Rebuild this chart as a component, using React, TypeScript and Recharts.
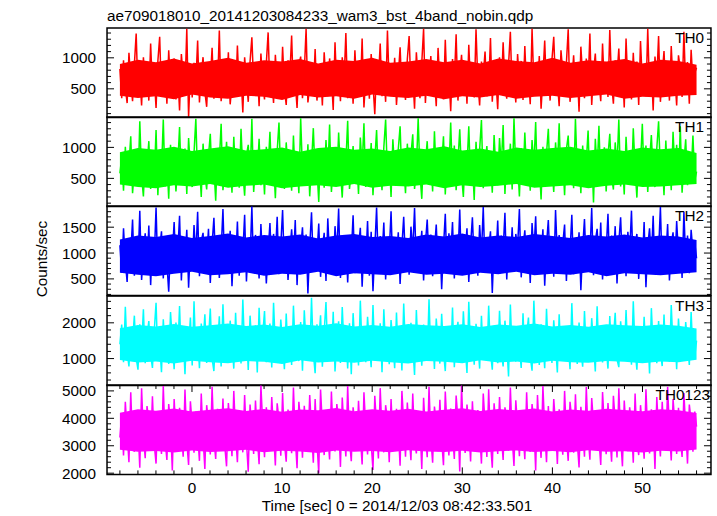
import { ComposedChart, Line, Area, XAxis, YAxis, ReferenceArea } from 'recharts';

// light curve samples, evenly spaced from tStart to tStop (sec)
const tStart = -8;
const tStop = 56;

const th0 = [
  820, 350, 960, 510, 270, 1080, 640, 300, 890, 1390, 420, 720, 230, 1010, 560, 860,
  310, 1230, 480, 700, 190, 950, 1340, 390, 610, 880, 260, 1120, 540, 420, 990, 330,
  760, 150, 1060, 680, 470, 1470, 40, 830, 360, 920, 590, 1280, 280, 740, 1010, 450,
  210, 870, 620, 1160, 340, 790, 520, 1440, 300, 680, 960, 410, 1090, 250, 590, 840,
  370, 1200, 480, 730, 120, 1010, 650, 290, 940, 1330, 560, 410, 870, 220, 1070, 600,
  330, 910, 1410, 460, 690, 270, 1050, 580, 820, 360, 1180, 510, 240, 960, 700, 1360,
  400, 620, 190, 880, 1020, 350, 770, 1470, 280, 540, 930, 430, 1140, 310, 660, 850,
  230, 1090, 590, 380, 990, 710, 160, 1250, 470, 830, 300, 1010, 620, 1400, 350, 560,
  900, 260, 1120, 520, 780, 410, 1310, 200, 690, 960, 340, 1060, 580, 90, 870, 640,
  1230, 380, 750, 290, 1440, 530, 850, 410, 1000, 240, 700, 1170, 460, 610, 320, 980,
  1350, 500, 720, 180, 1090, 640, 350, 920, 1470, 270, 810, 560, 1030, 400, 690, 220,
  1160, 590, 860, 330, 1290, 470, 750, 140, 980, 620, 1380, 310, 710, 1050, 440, 880,
  260, 1210, 540, 800, 360, 1460, 610, 230, 940, 700, 1100, 380, 520, 1320, 290, 830,
  650, 170, 1010, 460, 1250, 570, 340, 890, 1420, 410, 760, 280, 1060, 600, 950, 320,
  1190, 480, 730, 250, 1470, 560, 870, 390, 1030, 180, 690, 1280, 450, 800, 310, 970,
  1340, 530, 640, 220, 1120, 760, 380, 910, 1460, 290, 600, 1040, 470, 820, 130, 1180,
  700, 350, 990, 560, 1390, 240, 780, 1070, 430, 620, 300, 1230, 510, 890, 370, 1450,
  580, 260, 960, 710, 1150, 400, 830, 200, 1310, 540, 670, 330, 1080, 460, 940, 240,
  1270, 610, 790, 380, 1470, 500, 860, 150, 1020, 640, 1350, 290, 730, 1110, 420, 880,
  310, 1190, 560, 690, 230, 1040, 820, 370, 1420, 480, 930, 260, 1130, 590, 760, 840,
];

const th1 = [
  580, 840, 300, 1010, 460, 720, 1180, 260, 650, 930, 380, 1420, 540, 210, 870, 690,
  1100, 330, 760, 490, 1280, 230, 950, 610, 1450, 370, 800, 170, 1040, 520, 880, 290,
  710, 1330, 420, 590, 980, 250, 1150, 640, 360, 910, 1460, 480, 740, 200, 1060, 560,
  320, 860, 1220, 450, 680, 140, 990, 780, 1380, 310, 620, 1090, 400, 830, 270, 1170,
  530, 950, 350, 1300, 600, 220, 870, 1040, 470, 1460, 280, 720, 560, 1140, 390, 810,
  240, 1010, 660, 1250, 430, 760, 180, 940, 1400, 510, 690, 330, 1080, 590, 850, 300,
  1190, 460, 790, 260, 1470, 620, 900, 380, 1050, 210, 740, 1310, 540, 670, 120, 980,
  820, 350, 1120, 570, 1370, 280, 700, 960, 440, 1240, 610, 190, 890, 750, 1430, 330,
  600, 1020, 410, 820, 250, 1160, 680, 1390, 360, 930, 520, 1070, 230, 790, 1280, 470,
  700, 310, 1000, 1450, 550, 860, 200, 1130, 640, 380, 970, 1340, 490, 720, 260, 1060,
  430, 880, 1210, 330, 660, 1470, 580, 170, 940, 750, 1100, 400, 820, 290, 1260, 540,
  990, 360, 710, 1180, 240, 870, 620, 1400, 450, 1030, 310, 770, 1290, 560, 200, 910,
  680, 1340, 420, 800, 150, 1090, 590, 960, 1440, 340, 730, 1020, 480, 860, 270, 1200,
  610, 390, 1150, 700, 1360, 250, 920, 530, 1060, 320, 1470, 640, 780, 210, 990, 440,
  1240, 570, 850, 300, 1120, 680, 1410, 380, 740, 160, 1010, 590, 900, 1300, 460, 720,
  280, 1080, 650, 1390, 420, 830, 230, 970, 1190, 510, 770, 340, 1460, 600, 880, 260,
  1030, 480, 760, 1270, 350, 940, 110, 1140, 620, 1350, 410, 710, 1000, 290, 860, 1220,
  540, 320, 1080, 690, 1450, 370, 820, 240, 1170, 580, 950, 430, 1310, 660, 190, 900,
  740, 1380, 470, 1030, 280, 790, 1200, 550, 360, 980, 1420, 620, 840, 230, 1110, 500,
  870, 310, 1250, 640, 1040, 420, 1340, 270, 760, 1130, 390, 920, 560, 1190, 470, 610,
];

const th2 = [
  1150, 620, 1480, 830, 440, 1290, 970, 1650, 560, 1120, 760, 1820, 480, 1040, 1380, 690,
  1530, 380, 1210, 900, 1880, 590, 1070, 1420, 510, 1300, 810, 250, 1180, 960, 1600, 640,
  1010, 1720, 470, 1260, 860, 1450, 330, 1130, 700, 1540, 930, 1800, 550, 1230, 1390, 600,
  880, 1470, 420, 1170, 1680, 740, 1340, 520, 1050, 1850, 650, 1210, 960, 1430, 360, 1120,
  790, 1610, 560, 1280, 1000, 1740, 450, 1190, 870, 1900, 620, 1350, 1090, 510, 1560, 780,
  1250, 410, 1030, 1580, 720, 1370, 940, 1700, 590, 1150, 1830, 680, 1310, 480, 1020, 1460,
  840, 1640, 380, 1240, 1090, 1500, 630, 1360, 220, 1130, 1790, 730, 1280, 950, 1570, 540,
  1070, 1390, 460, 1670, 890, 1220, 600, 1520, 1000, 1860, 520, 1180, 760, 1330, 430, 1260,
  980, 1730, 610, 1300, 1120, 1490, 350, 1160, 820, 1620, 560, 1410, 260, 1080, 1880, 700,
  1330, 930, 1590, 490, 1200, 1010, 1810, 640, 1280, 850, 1400, 400, 1140, 1700, 770, 1230,
  580, 1510, 1040, 1870, 690, 1250, 930, 1430, 470, 1180, 1650, 820, 1360, 550, 1060, 1550,
  720, 1290, 300, 1110, 1760, 640, 1380, 980, 1600, 510, 1200, 890, 1840, 620, 1320, 1020,
  1480, 440, 1160, 1690, 790, 1270, 560, 1540, 970, 1890, 680, 1230, 1080, 1420, 230, 1190,
  870, 1630, 600, 1340, 1050, 1780, 490, 1210, 810, 1500, 650, 1370, 1120, 1850, 530, 1090,
  1440, 760, 1260, 420, 1580, 990, 1710, 620, 1300, 870, 1460, 370, 1170, 1640, 740, 1240,
  540, 1830, 930, 1350, 690, 1190, 1550, 460, 1280, 1020, 1740, 590, 1140, 840, 1400, 280,
  1100, 1660, 710, 1310, 960, 1870, 570, 1230, 1470, 800, 1590, 490, 1180, 1050, 1760, 640,
  1340, 880, 1520, 410, 1210, 1690, 740, 1290, 550, 1410, 990, 1820, 620, 1150, 1370, 500,
  1260, 780, 1600, 340, 1130, 1480, 860, 1720, 590, 1250, 1030, 1890, 680, 1320, 910, 1560,
  470, 1180, 1400, 730, 1620, 960, 1270, 520, 1800, 850, 1340, 610, 1450, 1020, 1200, 900,
];

const th3 = [
  1400, 1950, 900, 2450, 1200, 780, 1830, 1500, 2200, 1020, 690, 1960, 1330, 2380, 870, 1640,
  2050, 1100, 740, 1780, 2560, 960, 1420, 620, 2100, 1250, 1890, 850, 2300, 1480, 700, 2010,
  1170, 2470, 920, 1600, 560, 1850, 1320, 2150, 810, 2600, 1040, 1720, 730, 1980, 1390, 2240,
  880, 1530, 2400, 1000, 650, 1810, 1270, 2180, 780, 2520, 1150, 1690, 940, 2060, 1450, 720,
  2280, 1080, 1750, 860, 2650, 1220, 1870, 680, 2200, 1360, 990, 1930, 610, 2420, 1190, 1660,
  2330, 900, 1570, 1980, 750, 2560, 1300, 1800, 970, 2090, 1420, 700, 2260, 1130, 1840, 820,
  2480, 1250, 1620, 930, 2020, 660, 2350, 1380, 1910, 1000, 2700, 1160, 590, 1960, 1480, 2210,
  770, 1740, 2580, 1090, 1880, 940, 2310, 640, 1550, 2040, 880, 2440, 1270, 1830, 720, 1990,
  560, 2270, 1340, 1700, 810, 2620, 1200, 1850, 900, 2170, 1410, 760, 2500, 1060, 1760, 960,
  1990, 620, 2380, 1290, 1580, 840, 2080, 1460, 730, 2290, 1010, 1900, 670, 2540, 1230, 1790,
  890, 2000, 1370, 540, 2360, 1140, 1680, 800, 1950, 1300, 940, 2660, 1070, 1720, 710, 2120,
  1440, 860, 2250, 1190, 650, 1870, 1560, 980, 2430, 760, 1640, 2030, 1100, 880, 2320, 1350,
  600, 2590, 1260, 1820, 830, 1970, 1470, 720, 2200, 1040, 1730, 950, 2480, 1180, 690, 1920,
  1580, 870, 2340, 1210, 780, 2060, 1390, 500, 2510, 1120, 1760, 910, 1890, 1330, 740, 2270,
  990, 1650, 2150, 1060, 660, 2620, 1280, 1840, 820, 1960, 1430, 730, 2390, 1170, 1700, 880,
  2070, 1360, 610, 2240, 1020, 1810, 960, 1910, 1490, 700, 2550, 1130, 1630, 850, 2010, 1270,
  770, 2330, 1200, 1740, 930, 2130, 1410, 640, 2460, 1090, 1860, 890, 1940, 1320, 720, 2190,
  1060, 1580, 2280, 980, 760, 2040, 1450, 1000, 2360, 1150, 1670, 830, 2600, 1240, 690, 1880,
  1380, 940, 2170, 1110, 1790, 580, 2410, 1300, 1620, 870, 2050, 1190, 790, 2230, 1040, 1720,
  910, 2500, 1340, 1800, 700, 2120, 1250, 1590, 960, 2020, 1470, 820, 2300, 1120, 1060, 1500,
];

const th0123 = [
  3300, 4150, 2650, 4600, 3500, 2400, 4950, 3100, 2780, 4300, 3700, 2200, 5100, 3350, 2550, 4450,
  3900, 2900, 4800, 3050, 2350, 4200, 3600, 2700, 5180, 3200, 2480, 4520, 3800, 2100, 4700, 3400,
  2820, 4380, 3650, 2600, 5050, 3150, 2300, 4620, 3750, 2750, 4250, 3450, 2450, 4900, 3300, 2150,
  4480, 3850, 2680, 5150, 3250, 2520, 4350, 3550, 2880, 4720, 3000, 2250, 4560, 3700, 2620, 5000,
  3400, 2400, 4280, 3900, 2760, 4850, 3150, 2050, 4500, 3600, 2700, 4650, 3350, 2330, 5200, 3800,
  2580, 4400, 3250, 2850, 4780, 3500, 2280, 4550, 3950, 2640, 4920, 3100, 2420, 4320, 3700, 2730,
  5120, 3300, 2180, 4600, 3850, 2560, 4460, 3400, 2900, 4850, 3600, 2380, 4700, 3150, 2000, 5050,
  3750, 2660, 4300, 3450, 2500, 4980, 3300, 2790, 4520, 3900, 2230, 4760, 3550, 2610, 5180, 3200,
  2440, 4400, 3800, 2870, 4640, 3350, 2320, 4950, 3650, 2680, 4270, 3100, 2120, 4820, 3700, 2540,
  5100, 3450, 2760, 4480, 3950, 2400, 4700, 3250, 2830, 4350, 3600, 2270, 5000, 3800, 2600, 4580,
  3400, 2470, 4900, 3150, 2720, 4250, 3750, 2150, 4750, 3500, 2580, 5150, 3300, 2380, 4430, 3850,
  2800, 4680, 3200, 2290, 4980, 3600, 2650, 4360, 3450, 2520, 4830, 3950, 2060, 5200, 3350, 2740,
  4500, 3700, 2430, 4620, 3250, 2860, 4300, 3550, 2350, 4900, 3800, 2590, 5060, 3150, 2200, 4550,
  3650, 2700, 4780, 3400, 2480, 4400, 3900, 2820, 5120, 3300, 2260, 4660, 3700, 2620, 4280, 3500,
  2510, 4950, 3250, 2780, 4520, 3850, 2100, 4850, 3450, 2560, 5180, 3600, 2400, 4450, 3200, 2880,
  4700, 3750, 2340, 4330, 3500, 2670, 5000, 3350, 2450, 4600, 3950, 2750, 4880, 3150, 2210, 4420,
  3600, 2600, 5140, 3400, 2490, 4740, 3800, 2850, 4300, 3250, 2300, 4960, 3700, 2690, 4560, 3450,
  2420, 4820, 3900, 2570, 5100, 3300, 2250, 4650, 3550, 2800, 4400, 3750, 2380, 4900, 3200, 2660,
  4480, 3650, 2530, 5060, 3400, 2720, 4330, 3850, 2150, 4780, 3500, 2610, 4600, 3300, 2840, 5150,
  3550, 2460, 4700, 3800, 2700, 4380, 3250, 2590, 4920, 3600, 2350, 4500, 3900, 2780, 4250, 3700,
];

// dense core of each light curve (where the trace is solid), read every 2 s
const coreStep = 2;
const th0Lo = [390, 350, 380, 330, 410, 360, 340, 390, 370, 320, 400, 360, 380, 340, 410, 370, 350, 390, 330, 380, 360, 400, 340, 370, 390, 350, 380, 410, 340, 370, 360, 390, 400];
const th0Hi = [900, 970, 930, 990, 910, 950, 1000, 920, 960, 940, 980, 910, 970, 950, 1000, 920, 940, 980, 930, 970, 910, 990, 950, 930, 1000, 920, 960, 940, 980, 910, 970, 950, 890];
const th1Lo = [400, 360, 340, 390, 370, 410, 350, 380, 400, 340, 370, 390, 360, 410, 350, 380, 370, 400, 340, 390, 360, 380, 410, 350, 370, 390, 340, 380, 400, 360, 370, 390, 410];
const th1Hi = [920, 990, 960, 1010, 940, 980, 1020, 950, 970, 1000, 930, 990, 1010, 960, 980, 940, 1000, 970, 1020, 950, 980, 930, 1000, 960, 990, 1010, 950, 980, 940, 1000, 970, 990, 910];
const th2Lo = [620, 580, 550, 600, 640, 570, 590, 630, 560, 600, 580, 640, 550, 610, 590, 570, 630, 580, 600, 560, 620, 590, 640, 570, 600, 580, 630, 550, 610, 590, 570, 600, 630];
const th2Hi = [1260, 1340, 1310, 1370, 1290, 1330, 1380, 1300, 1350, 1320, 1360, 1280, 1340, 1370, 1310, 1330, 1290, 1360, 1320, 1380, 1300, 1340, 1310, 1370, 1330, 1290, 1350, 1320, 1360, 1300, 1340, 1320, 1250];
const th3Lo = [960, 890, 920, 860, 940, 900, 870, 930, 910, 850, 950, 890, 920, 880, 940, 900, 860, 930, 910, 870, 950, 890, 920, 860, 940, 900, 880, 930, 910, 870, 920, 900, 970];
const th3Hi = [1850, 1940, 1900, 1970, 1890, 1930, 1980, 1910, 1950, 1880, 1960, 1920, 1990, 1900, 1940, 1890, 1970, 1930, 1910, 1960, 1880, 1950, 1920, 1980, 1900, 1940, 1890, 1960, 1930, 1910, 1950, 1920, 1840];
const th0123Lo = [2850, 2780, 2810, 2750, 2830, 2770, 2800, 2850, 2760, 2820, 2790, 2740, 2830, 2780, 2810, 2760, 2840, 2790, 2770, 2820, 2750, 2800, 2830, 2770, 2810, 2760, 2840, 2780, 2800, 2750, 2820, 2790, 2860];
const th0123Hi = [4200, 4330, 4280, 4360, 4250, 4310, 4370, 4270, 4340, 4240, 4320, 4290, 4380, 4260, 4330, 4280, 4350, 4250, 4310, 4370, 4270, 4340, 4290, 4360, 4250, 4320, 4280, 4350, 4300, 4260, 4330, 4290, 4190];

const bandNames = ['TH0', 'TH1', 'TH2', 'TH3', 'TH0123'];
const bandValues = [th0, th1, th2, th3, th0123];
const bandLo = [th0Lo, th1Lo, th2Lo, th3Lo, th0123Lo];
const bandHi = [th0Hi, th1Hi, th2Hi, th3Hi, th0123Hi];
const bandColors = ['#ff0000', '#00ff00', '#0000ff', '#00ffff', '#ff00ff'];

const yDomains = [
  [39, 1481],
  [48, 1490],
  [181, 1910],
  [250, 2750],
  [1956, 5215],
];
const yTicks = [
  [100, 200, 300, 400, 500, 600, 700, 800, 900, 1000, 1100, 1200, 1300, 1400],
  [100, 200, 300, 400, 500, 600, 700, 800, 900, 1000, 1100, 1200, 1300, 1400],
  [200, 300, 400, 500, 600, 700, 800, 900, 1000, 1100, 1200, 1300, 1400, 1500, 1600, 1700, 1800, 1900],
  [400, 600, 800, 1000, 1200, 1400, 1600, 1800, 2000, 2200, 2400, 2600],
  [2000, 2200, 2400, 2600, 2800, 3000, 3200, 3400, 3600, 3800, 4000, 4200, 4400, 4600, 4800, 5000, 5200],
];
const yLabels = [
  [500, 1000],
  [500, 1000],
  [500, 1000, 1500],
  [1000, 2000],
  [2000, 3000, 4000, 5000],
];

const xDomain = [-9.43, 57.6];
const xTicks = [-8, -6, -4, -2, 0, 2, 4, 6, 8, 10, 12, 14, 16, 18, 20, 22, 24, 26, 28, 30, 32, 34, 36, 38, 40, 42, 44, 46, 48, 50, 52, 54, 56];
const xLabels = [0, 10, 20, 30, 40, 50];

const title = 'ae709018010_20141203084233_wam3_bst_4band_nobin.qdp';
const xTitle = 'Time [sec] 0 = 2014/12/03 08:42:33.501';
const yTitle = 'Counts/sec';

const W = 717;
const H = 516;
const LEFT = 107;
const RIGHT = 711;
const PLOT_W = RIGHT - LEFT;
const TOP = 27.5;
const PANEL_H = 89.4;
const PAD = 3;
const FONT = 15.3;
const FAMILY = '"Liberation Sans", Arial, Helvetica, sans-serif';

function XTick(props: any) {
  const { x, y, payload, showLabel } = props;
  const v = payload.value;
  const major = xLabels.includes(v);
  const len = major ? 7 : 4;
  return (
    <g>
      <line x1={x} x2={x} y1={y} y2={y - len} stroke="#000" strokeWidth={1} />
      <line x1={x} x2={x} y1={y - PANEL_H} y2={y - PANEL_H + len} stroke="#000" strokeWidth={1} />
      {showLabel && major && (
        <text x={x} y={y + 18.5} textAnchor="middle" fontSize={FONT} fontFamily={FAMILY} fill="#000">
          {v}
        </text>
      )}
    </g>
  );
}

function YTick(props: any) {
  const { x, y, payload, labels } = props;
  const v = payload.value;
  const major = labels.includes(v);
  const len = major ? 7 : 4;
  return (
    <g>
      <line x1={x} x2={x + len} y1={y} y2={y} stroke="#000" strokeWidth={1} />
      <line x1={x + PLOT_W} x2={x + PLOT_W - len} y1={y} y2={y} stroke="#000" strokeWidth={1} />
      {major && (
        <text x={x - 11} y={y} dy="0.36em" textAnchor="end" fontSize={FONT} fontFamily={FAMILY} fill="#000">
          {v}
        </text>
      )}
    </g>
  );
}

function Panel({ idx }: { idx: number }) {
  const values = bandValues[idx];
  const step = (tStop - tStart) / (values.length - 1);
  const data = values.map((v, i) => ({ t: tStart + i * step, v }));
  const core = bandLo[idx].map((lo, j) => ({ t: tStart + j * coreStep, band: [lo, bandHi[idx][j]] }));
  const isLast = idx === bandValues.length - 1;
  const axisH = isLast ? 40 : 0;
  const dom = yDomains[idx];
  const color = bandColors[idx];
  return (
    <div style={{ position: 'absolute', left: 0, top: TOP + idx * PANEL_H - PAD }}>
      <ComposedChart
        width={W}
        height={PANEL_H + 2 * PAD + axisH}
        data={data}
        margin={{ top: PAD, right: W - RIGHT, bottom: PAD, left: 0 }}
      >
        <XAxis
          dataKey="t"
          type="number"
          domain={xDomain}
          ticks={xTicks}
          interval={0}
          allowDataOverflow
          height={axisH}
          tickLine={false}
          axisLine={false}
          tickSize={0}
          tickMargin={0}
          tick={(p: any) => <XTick {...p} showLabel={isLast} />}
        />
        <YAxis
          type="number"
          domain={dom}
          ticks={yTicks[idx]}
          interval={0}
          allowDataOverflow
          width={LEFT}
          tickLine={false}
          axisLine={false}
          tickSize={0}
          tickMargin={0}
          tick={(p: any) => <YTick {...p} labels={yLabels[idx]} />}
        />
        <Area
          data={core}
          type="linear"
          dataKey="band"
          stroke="none"
          fill={color}
          fillOpacity={1}
          isAnimationActive={false}
        />
        <Line
          type="linear"
          dataKey="v"
          stroke={color}
          strokeWidth={1.5}
          dot={false}
          isAnimationActive={false}
        />
        <ReferenceArea
          x1={xDomain[0]}
          x2={xDomain[1]}
          y1={dom[0]}
          y2={dom[1]}
          fill="none"
          fillOpacity={0}
          stroke="#000"
          strokeWidth={1.5}
          ifOverflow="visible"
        />
      </ComposedChart>
    </div>
  );
}

export default function App() {
  return (
    <div style={{ position: 'absolute', left: 0, top: 0, width: W, height: H, background: '#fff' }}>
      {bandValues.map((_, i) => (
        <Panel key={bandNames[i]} idx={i} />
      ))}
      <svg
        width={W}
        height={H}
        style={{ position: 'absolute', left: 0, top: 0, pointerEvents: 'none' }}
        fontFamily={FAMILY}
        fontSize={FONT}
      >
        <text x={LEFT} y={21} fill="#000">{title}</text>
        <text x={397} y={511} textAnchor="middle" fill="#000">{xTitle}</text>
        <text
          x={0}
          y={0}
          transform="translate(46.5,259) rotate(-90)"
          textAnchor="middle"
          fill="#000"
        >
          {yTitle}
        </text>
        {bandNames.map((name, i) => (
          <text
            key={name}
            x={i === bandNames.length - 1 ? 710 : 704}
            y={TOP + i * PANEL_H + 15}
            textAnchor="end"
            fill="#000"
          >
            {name}
          </text>
        ))}
      </svg>
    </div>
  );
}
